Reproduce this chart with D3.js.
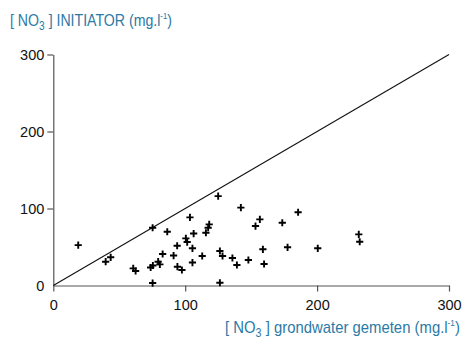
<!DOCTYPE html>
<html><head><meta charset="utf-8">
<script src="https://cdn.jsdelivr.net/npm/d3@7"></script>
<style>body{margin:0;background:#fff}svg{display:block}</style>
</head><body>
<script>
const xTicks = [0, 100, 200, 300];
const yTicks = [0, 100, 200, 300];
const xValues = [18.9,39.7,43.5,60.6,62.4,73.8,75.5,75.3,75.3,79.5,80.8,82.9,86.4,91.2,93.9,94.1,97.5,100.5,101.5,103.6,105.5,105.5,106.4,112.9,115.7,117.4,118.2,125,126.3,128.3,126.3,135.8,139.2,142.2,147.9,153.3,156.6,158.9,159.8,173.6,177.6,185.6,200.5,231.6,232.3];
const yValues = [52.5,30.9,36.6,22.3,18.8,23.4,26,75,3.2,30.9,27.5,40.9,69.8,38.9,51.6,24.4,20.1,61.2,56.4,88.5,48.3,29.8,67.5,38.3,68.5,75,79.4,116.1,44.8,38.3,3.6,35.7,26.6,101.2,33.1,77.2,85.9,47,27.9,81.5,49.6,95.1,48.3,66.4,56.8];
const lineX = [0, 300];
const lineY = [0, 300];

const W = 464, H = 338;
const svg = d3.select("body").append("svg").attr("width", W).attr("height", H);
const x = d3.scaleLinear().domain([0, 300]).range([53.3, 449]);
const y = d3.scaleLinear().domain([0, 300]).range([285.5, 54.5]);

const axisColor = "#555";
const gx = svg.append("g").attr("transform", `translate(0,${y(0)})`)
  .call(d3.axisBottom(x).tickValues(xTicks).tickSize(6).tickSizeOuter(0));
const gy = svg.append("g").attr("transform", `translate(${x(0)},0)`)
  .call(d3.axisLeft(y).tickValues(yTicks).tickSize(6).tickSizeOuter(0));
[gx, gy].forEach(g => {
  g.select(".domain").attr("stroke", axisColor).attr("stroke-width", 1.2);
  g.selectAll(".tick line").attr("stroke", axisColor).attr("stroke-width", 1.2);
  g.selectAll(".tick text").attr("fill", "#111").attr("font-family", "Liberation Sans, Arial, sans-serif").attr("font-size", 14.5);
});
gx.selectAll(".tick text").attr("dy", "1.1em");
gy.selectAll(".tick text").attr("x", -9).attr("dy", "0.35em");
gy.selectAll(".tick").filter(d => d === 0).select("line").remove();

// diagonal line
svg.append("line")
  .attr("x1", x(lineX[0])).attr("y1", y(lineY[0]))
  .attr("x2", x(lineX[1])).attr("y2", y(lineY[1]))
  .attr("stroke", "#111").attr("stroke-width", 1.1);

// points
const pts = xValues.map((v, i) => [v, yValues[i]]);
const s = 3.6;
svg.append("g").selectAll("path").data(pts).join("path")
  .attr("d", d => `M${x(d[0]) - s},${y(d[1])}H${x(d[0]) + s}M${x(d[0])},${y(d[1]) - s}V${y(d[1]) + s}`)
  .attr("stroke", "#000").attr("stroke-width", 1.9).attr("fill", "none");

const blue = "#2b7aa6";
const fam = "'Liberation Sans', Arial, sans-serif";
function label(xpos, ypos, rest, targetW) {
  const fs = 17;
  const g = svg.append("g");
  const t = g.append("text").attr("x", 0).attr("y", 0)
    .attr("fill", blue).attr("font-family", fam).attr("font-size", fs);
  t.append("tspan").text("[ NO");
  t.append("tspan").attr("font-size", fs * 0.72).attr("dy", fs * 0.25).text("3");
  t.append("tspan").attr("dy", -fs * 0.25).text(" ] " + rest + "(mg.l");
  t.append("tspan").attr("font-size", fs * 0.55).attr("dy", -fs * 0.42).text("-1");
  t.append("tspan").attr("dy", fs * 0.42).text(")");
  const w = t.node().getBBox().width;
  g.attr("transform", `translate(${xpos},${ypos}) scale(${targetW / w},1)`);
}
label(10, 26, "INITIATOR ", 162);
label(225, 333, "grondwater gemeten ", 235);
</script>
</body></html>
